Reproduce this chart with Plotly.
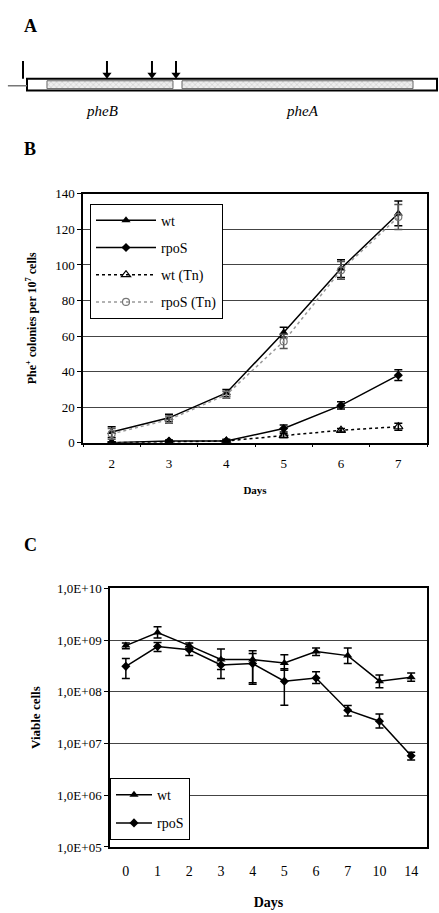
import plotly.graph_objects as go

# ---------------- Panel A: pheBA operon map (diagram units 0-1000) ----------------
operon_start, operon_end = 61.5, 995.4
gene_names = ["pheB", "pheA"]
gene_starts = [107.0, 414.6]
gene_ends = [394.0, 940.8]
gene_label_pos = [232.0, 690.0]
promoter_pos = 52.4
mutation_sites = [243.7, 346.2, 400.9]

# ---------------- Panel B: Phe+ revertants ----------------
days_b = ["2", "3", "4", "5", "6", "7"]
wt_b = [6, 14, 28, 62, 98, 129]
wt_b_err = [3, 2, 2, 3, 5, 7]
rpos_b = [0, 1, 1, 8, 21, 38]
rpos_b_err = [0.5, 0.5, 1, 2, 2, 3]
wt_tn_b = [0, 0.5, 1, 4, 7, 9]
wt_tn_b_err = [0.5, 0.5, 0.5, 1, 1, 2]
rpos_tn_b = [5, 13, 27, 57, 97, 127]
rpos_tn_b_err = [3, 2, 2, 4, 5, 7]

# ---------------- Panel C: viable cells ----------------
days_c = ["0", "1", "2", "3", "4", "5", "6", "7", "10", "14"]
wt_c = [7.8e8, 1.4e9, 7.8e8, 4.2e8, 4.2e8, 3.6e8, 6.0e8, 5.0e8, 1.6e8, 1.9e8]
wt_c_up = [1e8, 4e8, 1e8, 2.5e8, 2e8, 1.6e8, 1e8, 2e8, 5e7, 4e7]
wt_c_dn = [1e8, 3e8, 1e8, 1.5e8, 2.8e8, 1e8, 1e8, 1.5e8, 4e7, 3e7]
rpos_c = [3.1e8, 7.5e8, 6.5e8, 3.3e8, 3.5e8, 1.6e8, 1.85e8, 4.4e7, 2.7e7, 5.8e6]
rpos_c_up = [1.3e8, 1.5e8, 1e8, 1e8, 2e8, 1.2e8, 6e7, 1e7, 1e7, 1e6]
rpos_c_dn = [1.3e8, 1.5e8, 1.5e8, 1.5e8, 2e8, 1.05e8, 4e7, 1e7, 7e6, 1e6]

W, H = 439, 913
SERIF = "Liberation Serif"


def px_x(p):
    return p / W


def px_y(p):
    return 1 - p / H


fig = go.Figure()

# ---- Panel A traces (bars on x3/y3) ----
fig.add_trace(go.Bar(
    y=[0], x=[operon_end - operon_start], base=[operon_start], orientation="h",
    width=12, marker=dict(color="white", line=dict(color="black", width=2)),
    xaxis="x3", yaxis="y3", showlegend=False, hoverinfo="skip"))
fig.add_trace(go.Bar(
    y=[0] * len(gene_names), x=[e - s for s, e in zip(gene_starts, gene_ends)],
    base=gene_starts, orientation="h", width=8,
    marker=dict(color="#eeeeee", line=dict(color="#666", width=1),
                pattern=dict(shape="x", fgcolor="#999", size=4, solidity=0.25)),
    xaxis="x3", yaxis="y3", showlegend=False, hoverinfo="skip"))
# mutation-site arrows: stems + heads
stem_x, stem_y = [], []
for s in mutation_sites:
    stem_x += [s, s, None]
    stem_y += [24, 11, None]
fig.add_trace(go.Scatter(x=stem_x, y=stem_y, mode="lines",
                         line=dict(color="black", width=2),
                         xaxis="x3", yaxis="y3", showlegend=False, hoverinfo="skip"))
fig.add_trace(go.Scatter(x=mutation_sites, y=[10] * len(mutation_sites), mode="markers",
                         marker=dict(symbol="triangle-down", size=8, color="black"),
                         xaxis="x3", yaxis="y3", showlegend=False, hoverinfo="skip"))

# ---- Panel B traces ----
eb = dict(type="data", thickness=1.5, width=4, color="black")
fig.add_trace(go.Scatter(
    x=days_b, y=wt_b, name="wt", mode="lines+markers",
    line=dict(color="black", width=1.5),
    marker=dict(symbol="triangle-up", size=8, color="black"),
    error_y=dict(array=wt_b_err, **eb), legend="legend", legendgroup="b1"))
fig.add_trace(go.Scatter(
    x=days_b, y=rpos_b, name="rpoS", mode="lines+markers",
    line=dict(color="black", width=1.5),
    marker=dict(symbol="diamond", size=7, color="black"),
    error_y=dict(array=rpos_b_err, **eb), legend="legend", legendgroup="b2"))
fig.add_trace(go.Scatter(
    x=days_b, y=wt_tn_b, name="wt (Tn)", mode="lines+markers",
    line=dict(color="black", width=1.5, dash="dot"),
    marker=dict(symbol="triangle-up-open", size=8, color="black", line=dict(width=1.2)),
    error_y=dict(array=wt_tn_b_err, **eb), legend="legend", legendgroup="b3"))
fig.add_trace(go.Scatter(
    x=days_b, y=rpos_tn_b, name="rpoS (Tn)", mode="lines+markers",
    line=dict(color="#999", width=1.5, dash="dot"),
    marker=dict(symbol="circle-open", size=7, color="#777", line=dict(width=1.2)),
    error_y=dict(array=rpos_tn_b_err, type="data", thickness=1.5, width=4, color="#555"),
    legend="legend", legendgroup="b4"))

# ---- Panel C traces ----
fig.add_trace(go.Scatter(
    x=days_c, y=wt_c, name="wt", mode="lines+markers",
    line=dict(color="black", width=1.5),
    marker=dict(symbol="triangle-up", size=8, color="black"),
    error_y=dict(array=wt_c_up, arrayminus=wt_c_dn, **eb),
    xaxis="x2", yaxis="y2", legend="legend2", legendgroup="c1"))
fig.add_trace(go.Scatter(
    x=days_c, y=rpos_c, name="rpoS", mode="lines+markers",
    line=dict(color="black", width=1.5),
    marker=dict(symbol="diamond", size=7, color="black"),
    error_y=dict(array=rpos_c_up, arrayminus=rpos_c_dn, **eb),
    xaxis="x2", yaxis="y2", legend="legend2", legendgroup="c2"))

axis_common = dict(showline=True, linecolor="black", linewidth=1.5, mirror=True,
                   ticks="outside", ticklen=4, tickcolor="black",
                   tickfont=dict(family=SERIF, size=13, color="black"))

fig.update_layout(
    width=W, height=H, autosize=False,
    margin=dict(l=0, r=0, t=0, b=0),
    paper_bgcolor="white", plot_bgcolor="white",
    font=dict(family=SERIF, color="black"),
    barmode="overlay",
    xaxis=dict(domain=[px_x(83), px_x(427)], anchor="y", type="category",
               categoryarray=days_b, range=[-0.5, 5.5], tickson="boundaries",
               showgrid=False, ticklen=3, ticklabelstandoff=8,
               title=dict(text="<b>Days</b>", font=dict(family=SERIF, size=11), standoff=16),
               **{k: v for k, v in axis_common.items() if k != "ticklen"}),
    yaxis=dict(domain=[px_y(443), px_y(190)], anchor="x", range=[0, 140], dtick=20,
               showgrid=True, gridcolor="#444", gridwidth=1, zeroline=False,
               title=dict(text="<b>Phe<sup>+</sup> colonies per 10<sup>7</sup> cells</b>",
                          font=dict(family=SERIF, size=12), standoff=16),
               **axis_common),
    xaxis2=dict(domain=[px_x(110), px_x(427)], anchor="y2", type="category",
                categoryarray=days_c, range=[-0.5, 9.5], showgrid=False,
                ticklabelstandoff=10,
                title=dict(text="<b>Days</b>", font=dict(family=SERIF, size=14), standoff=20),
                **{**axis_common, "tickfont": dict(family=SERIF, size=14, color="black"),
                   "ticks": ""}),
    yaxis2=dict(domain=[px_y(854), px_y(591)], anchor="x2", type="log", range=[5, 10],
                tickvals=[1e5, 1e6, 1e7, 1e8, 1e9, 1e10],
                ticktext=["1,0E+05", "1,0E+06", "1,0E+07", "1,0E+08", "1,0E+09", "1,0E+10"],
                showgrid=True, gridcolor="#444", gridwidth=1, zeroline=False,
                title=dict(text="<b>Viable cells</b>", font=dict(family=SERIF, size=13), standoff=14),
                **axis_common),
    xaxis3=dict(domain=[0, 1], anchor="y3", range=[0, 1000], visible=False, fixedrange=True),
    yaxis3=dict(domain=[px_y(115), px_y(30)], anchor="x3", range=[-36, 49], visible=False,
                fixedrange=True),
    legend=dict(x=px_x(90), y=px_y(200), xanchor="left", yanchor="top",
                bgcolor="white", bordercolor="black", borderwidth=1,
                font=dict(family=SERIF, size=14, color="black"), tracegroupgap=6,
                itemwidth=60),
    legend2=dict(x=px_x(110), y=px_y(784), xanchor="left", yanchor="top",
                 bgcolor="white", bordercolor="black", borderwidth=1,
                 font=dict(family=SERIF, size=14, color="black"), tracegroupgap=7,
                 itemwidth=36),
)

# panel letters
for letter, ypx in [("A", 19), ("B", 144), ("C", 547)]:
    fig.add_annotation(text=f"<b>{letter}</b>", xref="paper", yref="paper",
                       x=px_x(22), y=px_y(ypx), xanchor="left", yanchor="middle",
                       showarrow=False, font=dict(family=SERIF, size=18, color="black"))

# panel A: gene labels, promoter
for name, pos in zip(gene_names, gene_label_pos):
    fig.add_annotation(text=f"<i>{name}</i>", xref="x3", yref="y3", x=pos, y=-27,
                       showarrow=False, font=dict(family=SERIF, size=15, color="black"))
fig.add_shape(type="line", xref="x3", yref="y3", x0=promoter_pos, x1=promoter_pos,
              y0=6, y1=24, line=dict(color="black", width=2))
fig.add_shape(type="line", xref="x3", yref="y3", x0=18, x1=operon_start,
              y0=-1, y1=-1, line=dict(color="#777", width=1.5))

fig.write_html("out.html", config={"displayModeBar": False},
               post_script="document.body.style.margin='0';document.body.style.padding='0';")
